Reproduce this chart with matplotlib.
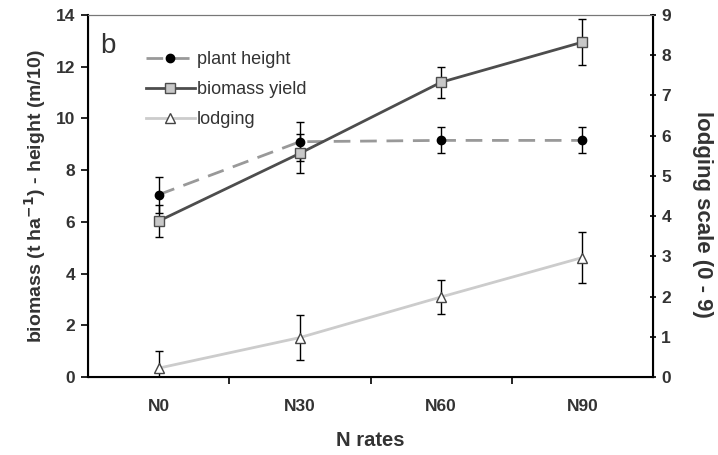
import matplotlib
matplotlib.use("Agg")
import matplotlib.pyplot as plt
from matplotlib.lines import Line2D
import numpy as np

plt.rcParams['font.family'] = ['Liberation Sans', 'DejaVu Sans']

# data
categories = ['N0', 'N30', 'N60', 'N90']
height = [7.05, 9.1, 9.15, 9.15]
height_err = [0.7, 0.75, 0.5, 0.5]
biomass = [6.03, 8.65, 11.4, 12.95]
biomass_err = [0.62, 0.75, 0.6, 0.9]
lodging = [0.22, 0.98, 1.99, 2.97]
lodging_err = [0.42, 0.56, 0.42, 0.63]

x = np.arange(len(categories))
txt = '#333333'

fig = plt.figure(figsize=(7.18, 4.55), dpi=100)
ax = fig.add_axes([88 / 718, 1 - 377 / 455, (653 - 88) / 718, (377 - 15) / 455])
ax2 = ax.twinx()

h_style = dict(color='#999999', lw=2, ls=(0, (6, 3.5)), marker='o', ms=6,
               mfc='black', mec='black')
b_style = dict(color='#4d4d4d', lw=2, ls='-', marker='s', ms=6.5,
               mfc='#c8c8c8', mec='#4d4d4d')
l_style = dict(color='#cccccc', lw=2, ls='-', marker='^', ms=6.5,
               mfc='white', mec='#444444')
eb = dict(ecolor='black', elinewidth=1, capsize=3, capthick=1, zorder=3)

ax.errorbar(x, height, yerr=height_err, **h_style, **eb)
ax.errorbar(x, biomass, yerr=biomass_err, **b_style, **eb)
ax2.errorbar(x, lodging, yerr=lodging_err, **l_style, **eb)

ax.set_xlim(-0.5, 3.5)
ax.set_ylim(0, 14)
ax2.set_ylim(0, 9)
ax.set_yticks(np.arange(0, 15, 2))
ax2.set_yticks(np.arange(0, 10, 1))

ax.set_xticks(x)
ax.set_xticklabels(categories)
ax.tick_params(axis='x', length=0, pad=16)
ax.set_xticks(np.arange(0.5, 3.5, 1), minor=True)
ax.tick_params(axis='x', which='minor', length=5, width=1.2, direction='out')
ax.tick_params(axis='y', length=5, width=1.2, direction='out', pad=4)
ax2.tick_params(axis='y', length=4, width=1.2, direction='inout', pad=4)

for a in (ax, ax2):
    for lab in a.get_xticklabels() + a.get_yticklabels():
        lab.set_fontweight('bold')
        lab.set_fontsize(12.5)
        lab.set_color(txt)

for s in ('left', 'bottom'):
    ax.spines[s].set_linewidth(1.5)
ax2.spines['right'].set_linewidth(1.5)
for a in (ax, ax2):
    a.spines['top'].set_linewidth(0.8)
    a.spines['top'].set_color('#777777')

ax.set_ylabel('biomass (t ha$^{\\mathbf{-1}}$) - height (m/10)', fontsize=14,
              fontweight='bold', color=txt, labelpad=6)
fig.text(703 / 718, 1 - 214 / 455, 'lodging scale (0 - 9)', fontsize=16,
         fontweight='bold', color=txt, rotation=270, ha='center', va='center')
ax.set_xlabel('N rates', fontsize=14.5, fontweight='bold', color=txt, labelpad=12)

ax.text(0.022, 0.95, 'b', transform=ax.transAxes, fontsize=20, va='top', ha='left',
        color=txt)

handles = [Line2D([], [], **h_style), Line2D([], [], **b_style), Line2D([], [], **l_style)]
labels = ['plant height', 'biomass yield', 'lodging']
leg = ax.legend(handles, labels, loc='upper left', bbox_to_anchor=(0.09, 0.92),
                frameon=False, fontsize=13, handlelength=2.7, handletextpad=0.1,
                labelspacing=0.72, borderaxespad=0)
for t in leg.get_texts():
    t.set_color(txt)

fig.savefig('out.png', dpi=100)
